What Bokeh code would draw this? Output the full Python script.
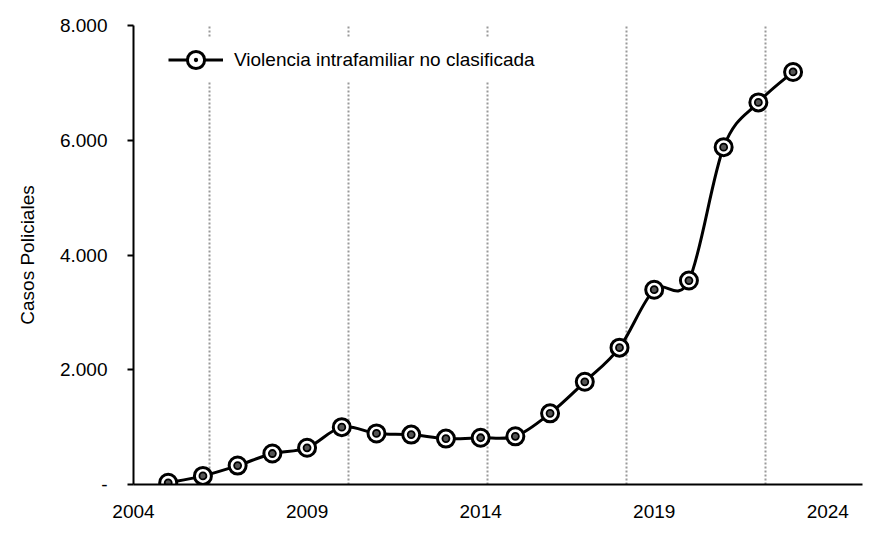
from bokeh.core.properties import value
from bokeh.embed import file_html
from bokeh.models import ColumnDataSource, FixedTicker, Legend, LegendItem
from bokeh.plotting import figure
from bokeh.resources import INLINE

# Casos policiales por año
years = [2005, 2006, 2007, 2008, 2009, 2010, 2011, 2012, 2013, 2014,
         2015, 2016, 2017, 2018, 2019, 2020, 2021, 2022, 2023]
casos = [30, 150, 330, 540, 640, 1000, 890, 870, 800, 815,
         840, 1240, 1790, 2385, 3395, 3555, 5880, 6660, 7190]

serie = "Violencia intrafamiliar no clasificada"
x_ticks = [2004, 2009, 2014, 2019, 2024]
y_ticks = [0, 2000, 4000, 6000, 8000]
y_tick_labels = ["-", "2.000", "4.000", "6.000", "8.000"]
grid_years = [2006.2, 2010.2, 2014.2, 2018.2, 2022.2]

FONT = "Liberation Sans"
FONT_SIZE = "19px"


def smooth_source(xs, ys):
    # bezier control points (Excel-like smoothed line)
    n = len(xs)
    cols = {k: [] for k in ("x0", "y0", "x1", "y1", "cx0", "cy0", "cx1", "cy1")}
    for i in range(n - 1):
        xp, yp = (xs[i - 1], ys[i - 1]) if i > 0 else (xs[i], ys[i])
        xn, yn = (xs[i + 2], ys[i + 2]) if i + 2 < n else (xs[i + 1], ys[i + 1])
        cols["x0"].append(xs[i])
        cols["y0"].append(ys[i])
        cols["x1"].append(xs[i + 1])
        cols["y1"].append(ys[i + 1])
        cols["cx0"].append(xs[i] + (xs[i + 1] - xp) / 6)
        cols["cy0"].append(ys[i] + (ys[i + 1] - yp) / 6)
        cols["cx1"].append(xs[i + 1] - (xn - xs[i]) / 6)
        cols["cy1"].append(ys[i + 1] - (yn - ys[i]) / 6)
    return ColumnDataSource(cols)


src = ColumnDataSource(dict(year=years, casos=casos))

p = figure(
    width=863, height=532,
    x_range=(2004, 2025), y_range=(0, 8000),
    output_backend="svg", toolbar_location=None,
    min_border_left=133, min_border_right=1,
    min_border_top=25, min_border_bottom=48,
)
p.outline_line_color = None
p.background_fill_color = "white"
p.border_fill_color = "white"

# axes
p.xaxis.ticker = FixedTicker(ticks=x_ticks)
p.xaxis.major_tick_line_color = None
p.xaxis.minor_tick_line_color = None
p.xaxis.major_label_standoff = 14
p.yaxis.ticker = FixedTicker(ticks=y_ticks)
p.yaxis.major_label_overrides = dict(zip(y_ticks, y_tick_labels))
p.yaxis.minor_tick_line_color = None
p.yaxis.major_tick_in = 0
p.yaxis.major_tick_out = 6
p.yaxis.major_tick_line_width = 2
p.yaxis.major_label_standoff = 20
p.yaxis.axis_label = "Casos Policiales"
p.yaxis.axis_label_standoff = 19
for ax in (p.xaxis, p.yaxis):
    ax.axis_line_width = 2
    ax.axis_line_color = "black"
    ax.major_label_text_font = FONT
    ax.major_label_text_font_size = FONT_SIZE
    ax.major_label_text_color = "black"
    ax.axis_label_text_font = FONT
    ax.axis_label_text_font_size = FONT_SIZE
    ax.axis_label_text_font_style = "normal"
    ax.axis_label_text_color = "black"

# dotted vertical gridlines
p.ygrid.grid_line_color = None
p.xgrid.ticker = FixedTicker(ticks=grid_years)
p.xgrid.grid_line_color = "#999999"
p.xgrid.grid_line_width = 2
p.xgrid.grid_line_dash = "2 2"

# smoothed line + markers
curve = p.bezier(
    x0="x0", y0="y0", x1="x1", y1="y1", cx0="cx0", cy0="cy0", cx1="cx1", cy1="cy1",
    source=smooth_source(years, casos), line_color="black", line_width=3,
)
marks = p.scatter(
    "year", "casos", source=src, marker="circle_dot", size=17,
    fill_color="white", line_color="black", line_width=3,
)
p.scatter(
    "year", "casos", source=src, marker="circle", size=7,
    fill_color="#555555", line_color="black", line_width=1.8,
)

legend = Legend(
    items=[LegendItem(label=serie, renderers=[curve, marks])],
    location=(35, 403),
    padding=5, margin=0, spacing=0,
    glyph_width=55, glyph_height=43, label_standoff=11,
    label_text_font=FONT, label_text_font_size=FONT_SIZE, label_text_color="black",
    background_fill_color="white", background_fill_alpha=1.0,
    border_line_color=None,
)
p.add_layout(legend)

open("out.html", "w").write(file_html(p, INLINE))
